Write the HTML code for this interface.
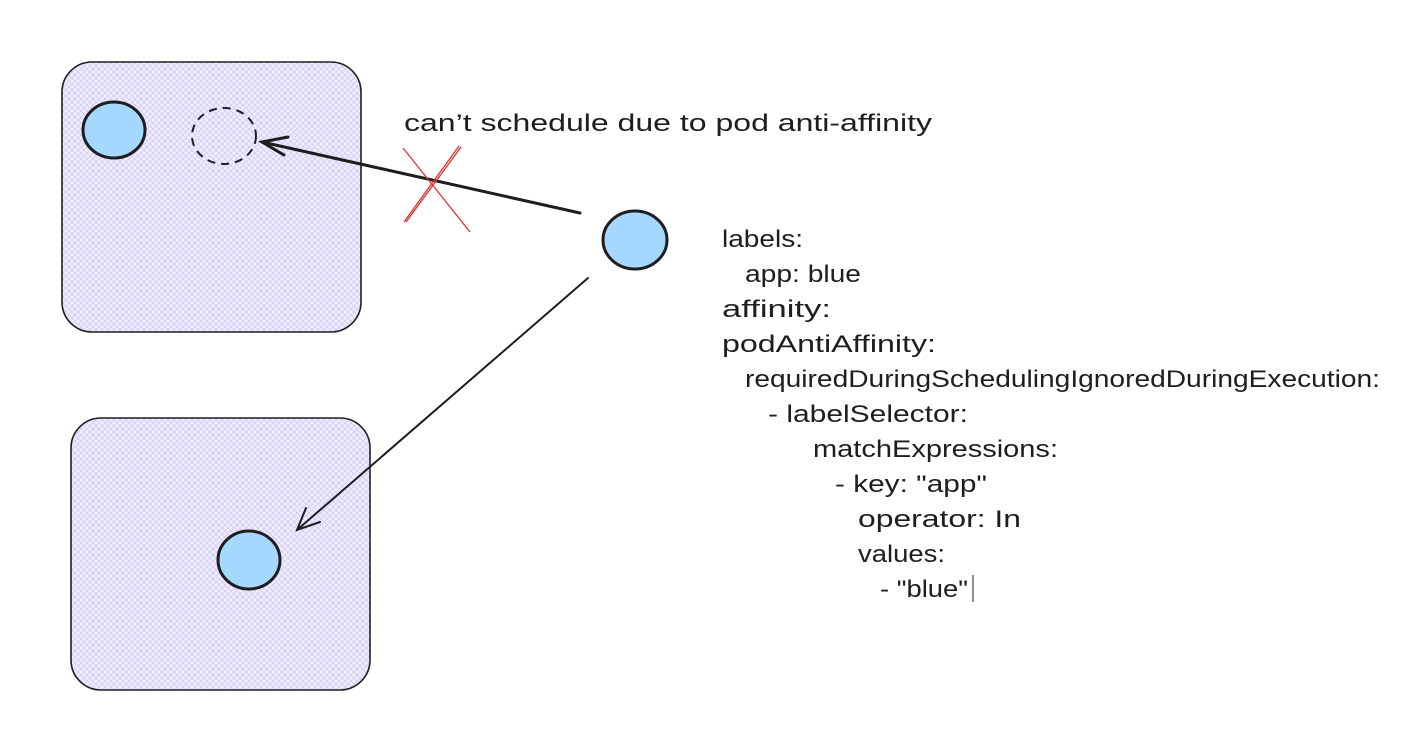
<!DOCTYPE html>
<html><head><style>html,body{margin:0;background:#fff}svg{display:block}</style></head>
<body>
<svg width="1422" height="741" viewBox="0 0 1422 741" xmlns="http://www.w3.org/2000/svg">
<defs>
<pattern id="h" width="6" height="6" patternUnits="userSpaceOnUse">
<rect width="6" height="6" fill="#efecfd"/>
<path d="M0 6L6 0M0 0L6 6" stroke="#cfc6f7" stroke-width="0.7"/>
</pattern>
</defs>
<rect x="62" y="62" width="299" height="270" rx="30" fill="url(#h)" stroke="#1e1e1e" stroke-width="1.6"/>
<rect x="71" y="418" width="299" height="272" rx="30" fill="url(#h)" stroke="#1e1e1e" stroke-width="1.6"/>
<ellipse cx="114" cy="130" rx="31" ry="28" fill="#a5d8ff" stroke="#1e1e1e" stroke-width="3"/>
<ellipse cx="224" cy="136" rx="32" ry="28" fill="none" stroke="#1e1e1e" stroke-width="2" stroke-dasharray="8 6"/>
<ellipse cx="635" cy="240" rx="32" ry="29" fill="#a5d8ff" stroke="#1e1e1e" stroke-width="3"/>
<ellipse cx="249" cy="560" rx="31" ry="29" fill="#a5d8ff" stroke="#1e1e1e" stroke-width="3"/>
<g stroke="#1e1e1e" fill="none" stroke-linecap="round">
<path d="M580 213L262 142" stroke-width="3"/>
<path d="M288 137L262 142L284 155" stroke-width="3"/>
<path d="M588 278L297 530" stroke-width="2"/>
<path d="M306 508L297 530L320 522" stroke-width="2"/>
</g>
<g stroke="#e03131" stroke-width="1.3">
<path d="M403 148L470 232"/><path d="M404 222L459 146"/><path d="M406 222L461 147"/>
</g>
<g font-family="Liberation Sans, sans-serif" font-size="24" fill="#1e1e1e">
<text x="404" y="131" textLength="528" lengthAdjust="spacingAndGlyphs">can’t schedule due to pod anti-affinity</text>
<text x="722" y="247" textLength="81" lengthAdjust="spacingAndGlyphs">labels:</text>
<text x="745" y="282" textLength="116" lengthAdjust="spacingAndGlyphs">app: blue</text>
<text x="722" y="317" textLength="109" lengthAdjust="spacingAndGlyphs">affinity:</text>
<text x="722" y="352" textLength="214" lengthAdjust="spacingAndGlyphs">podAntiAffinity:</text>
<text x="745" y="387" textLength="635" lengthAdjust="spacingAndGlyphs">requiredDuringSchedulingIgnoredDuringExecution:</text>
<text x="768" y="422" textLength="200" lengthAdjust="spacingAndGlyphs">- labelSelector:</text>
<text x="813" y="457" textLength="245" lengthAdjust="spacingAndGlyphs">matchExpressions:</text>
<text x="835" y="492" textLength="152" lengthAdjust="spacingAndGlyphs">- key: "app"</text>
<text x="858" y="527" textLength="163" lengthAdjust="spacingAndGlyphs">operator: In</text>
<text x="858" y="562" textLength="87" lengthAdjust="spacingAndGlyphs">values:</text>
<text x="880" y="597" textLength="88" lengthAdjust="spacingAndGlyphs">- "blue"</text>
</g>
<path d="M973 575V602" stroke="#1e1e1e" stroke-width="1"/>
</svg>
</body></html>
